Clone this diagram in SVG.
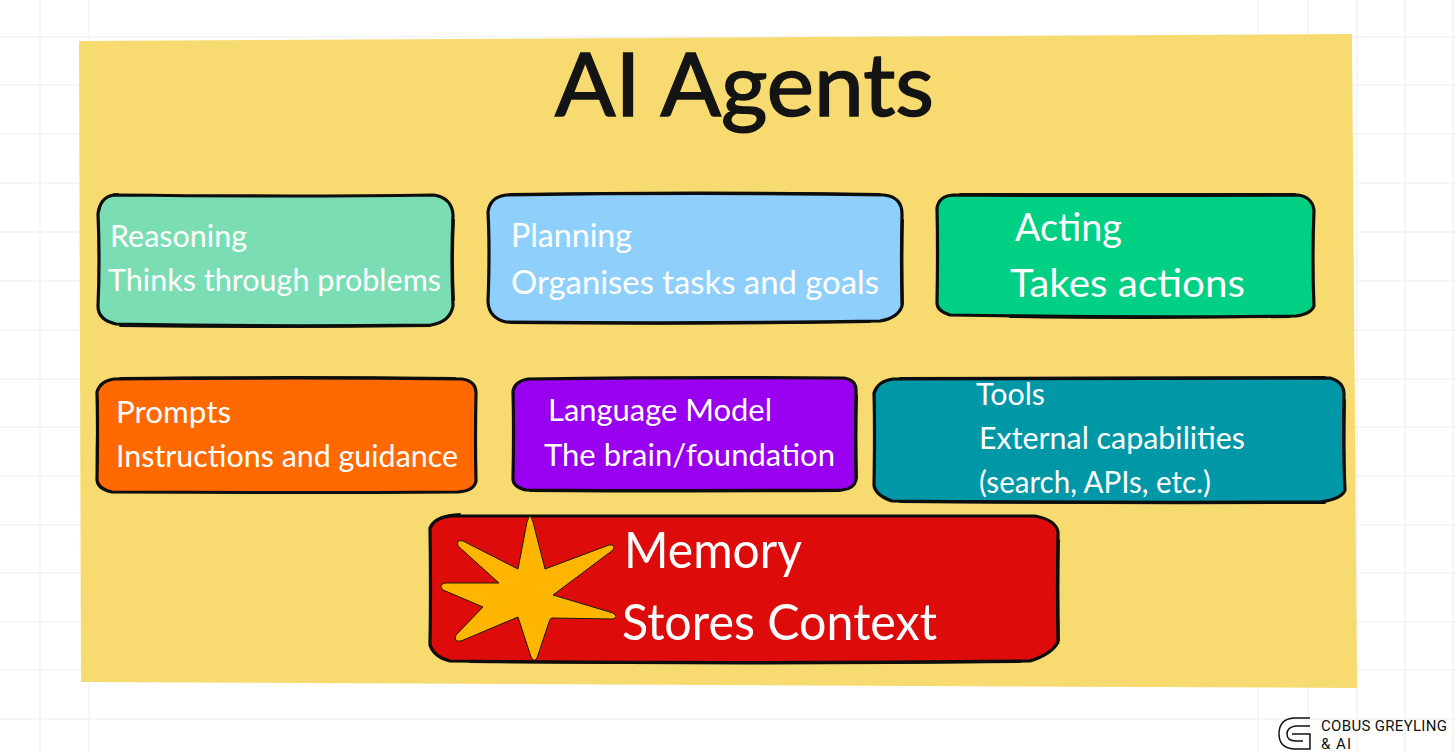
<svg xmlns="http://www.w3.org/2000/svg" width="1456" height="752" viewBox="0 0 1456 752">
<style>
.t{font-family:"Lato","Open Sans","Liberation Sans",sans-serif;fill:#fff;font-weight:400}
.b{stroke:#0d0d0d;stroke-width:3.2;stroke-linejoin:round}
.o{fill:none;stroke:#0d0d0d;stroke-width:1.8;stroke-linecap:round}
.g{stroke:#f3f3f3;stroke-width:1.5;fill:none}
.l{font-family:"Liberation Sans Narrow","Roboto","Liberation Sans",sans-serif;font-size:15px;fill:#111}
</style>
<rect width="1456" height="752" fill="#fff"/>
<path class="g" d="M40 0V752M89 0V752M1258 0V752M1308 0V752M1357 0V752M1405 0V752M1453 0V752M0 37H1456M0 85H1456M0 134H1456M0 183H1456M0 232H1456M0 281H1456M0 330H1456M0 379H1456M0 427H1456M0 476H1456M0 525H1456M0 573H1456M0 622H1456M0 670H1456M0 719H1456"/>
<path id="board" d="M79 41L1352 34L1357 688L81 682Z" fill="#f7db70"/>
<text class="t" x="555" y="116" font-size="88" textLength="379" lengthAdjust="spacingAndGlyphs" style="fill:#141414;stroke:#141414;stroke-width:1.6">AI Agents</text>
<g id="reasoning">
<path class="b" fill="#7bddb3" d="M114 195Q300 197 434 195Q452 198 453 215Q451 260 453 306Q450 322 431 325Q270 327 116 324Q98 320 98 306Q100 260 98 214Q100 197 114 195Z"/>
<path class="o" d="M99 212Q101 195 118 194M120 326Q270 328 430 326M454 220Q452 260 454 300"/>
<text class="t" x="110" y="247" font-size="31" textLength="137" lengthAdjust="spacingAndGlyphs">Reasoning</text>
<text class="t" x="108" y="291" font-size="31" textLength="333" lengthAdjust="spacingAndGlyphs">Thinks through problems</text>
</g>
<g id="planning">
<path class="b" fill="#8fcffc" d="M506 195Q700 192 884 195Q902 197 902 214Q901 260 902 306Q898 318 880 321Q700 324 506 322Q489 318 488 302Q490 250 488 212Q490 197 506 195Z"/>
<path class="o" d="M510 194Q700 191 880 194M903 220Q902 260 903 304M510 323Q700 325 870 322"/>
<text class="t" x="511" y="247" font-size="32" textLength="121" lengthAdjust="spacingAndGlyphs">Planning</text>
<text class="t" x="511" y="294" font-size="32" textLength="368" lengthAdjust="spacingAndGlyphs">Organises tasks and goals</text>
</g>
<g id="acting">
<path class="b" fill="#00d084" d="M953 195Q1130 196 1298 195Q1312 197 1314 210Q1312 260 1314 306Q1311 314 1296 316Q1130 318 950 315Q937 311 937 303Q938 250 937 208Q939 196 953 195Z"/>
<path class="o" d="M960 194Q1130 194 1295 194M1010 317Q1130 319 1290 317"/>
<text class="t" x="1015" y="241" font-size="39" textLength="107" lengthAdjust="spacingAndGlyphs">Acting</text>
<text class="t" x="1010" y="297" font-size="39" textLength="235" lengthAdjust="spacingAndGlyphs">Takes actions</text>
</g>
<g id="prompts">
<path class="b" fill="#ff6900" d="M114 379Q290 377 462 379Q476 381 476 393Q475 440 476 481Q474 491 458 492Q290 493 112 492Q98 489 97 480Q98 430 97 392Q100 381 114 379Z"/>
<path class="o" d="M120 378Q290 376 455 378M98 400Q96 440 97 478"/>
<text class="t" x="116" y="423" font-size="31" textLength="115" lengthAdjust="spacingAndGlyphs">Prompts</text>
<text class="t" x="116" y="467" font-size="31" textLength="342" lengthAdjust="spacingAndGlyphs">Instructions and guidance</text>
</g>
<g id="language-model">
<path class="b" fill="#9900ef" d="M528 379Q690 377 844 378Q856 380 856 390Q855 440 856 480Q854 489 842 490Q690 491 526 490Q513 487 513 479Q514 430 513 391Q515 381 528 379Z"/>
<path class="o" d="M530 491Q690 492 840 491M857 395Q856 440 857 478"/>
<text class="t" x="548" y="421" font-size="31" textLength="224" lengthAdjust="spacingAndGlyphs">Language Model</text>
<text class="t" x="544" y="466" font-size="31" textLength="291" lengthAdjust="spacingAndGlyphs">The brain/foundation</text>
</g>
<g id="tools">
<path class="b" fill="#0097a7" d="M893 379Q1110 378 1330 378Q1344 382 1344 394Q1343 450 1345 490Q1342 499 1320 502Q1110 503 892 501Q875 495 874 485Q875 430 874 393Q878 381 893 379Z"/>
<path class="o" d="M900 378Q1110 377 1325 377M900 502Q1110 504 1325 503M1345 400Q1344 450 1345 488"/>
<text class="t" x="976" y="405" font-size="31" textLength="69" lengthAdjust="spacingAndGlyphs">Tools</text>
<text class="t" x="979" y="449" font-size="31" textLength="266" lengthAdjust="spacingAndGlyphs">External capabilities</text>
<text class="t" x="979" y="493" font-size="31" textLength="232" lengthAdjust="spacingAndGlyphs">(search, APIs, etc.)</text>
</g>
<g id="memory">
<path class="b" fill="#de0b0b" d="M450 516Q750 515 1035 516Q1056 520 1058 532Q1057 590 1058 642Q1052 654 1030 661Q750 664 450 661Q434 657 430 645Q431 590 430 528Q434 518 450 516Z"/>
<path class="o" d="M432 526Q436 515 460 514M470 662Q750 665 1020 662M1059 540Q1058 590 1059 640"/>
<path id="star" fill="#ffb600" stroke="#1a1a00" stroke-width="1" d="M527 522Q530 511 533 522L545 569L609 545Q616 544 613 550L553 595L613 613Q619 617 613 619L552 618Q550 618 549 622L537 658Q534 663 531 657L518 617L461 641Q453 642 456 635L483 607L443 590Q438 585 445 583L499 583L458 546Q456 539 463 541L518 569Z"/>
<text class="t" x="624" y="568" font-size="51" textLength="178" lengthAdjust="spacingAndGlyphs">Memory</text>
<text class="t" x="622" y="640" font-size="51" textLength="315" lengthAdjust="spacingAndGlyphs">Stores Context</text>
</g>
<g id="logo" fill="none" stroke="#111" stroke-width="1.5">
<path d="M1310 718H1294Q1279 719 1279 734Q1279 748 1294 749H1310V734H1292M1310 726H1296Q1287 727 1287 734Q1287 741 1296 741H1303"/>
</g>
<text class="l" x="1321" y="731" textLength="126" lengthAdjust="spacing">COBUS GREYLING</text>
<text class="l" x="1321" y="749" textLength="30" lengthAdjust="spacing">&amp; AI</text>
</svg>
